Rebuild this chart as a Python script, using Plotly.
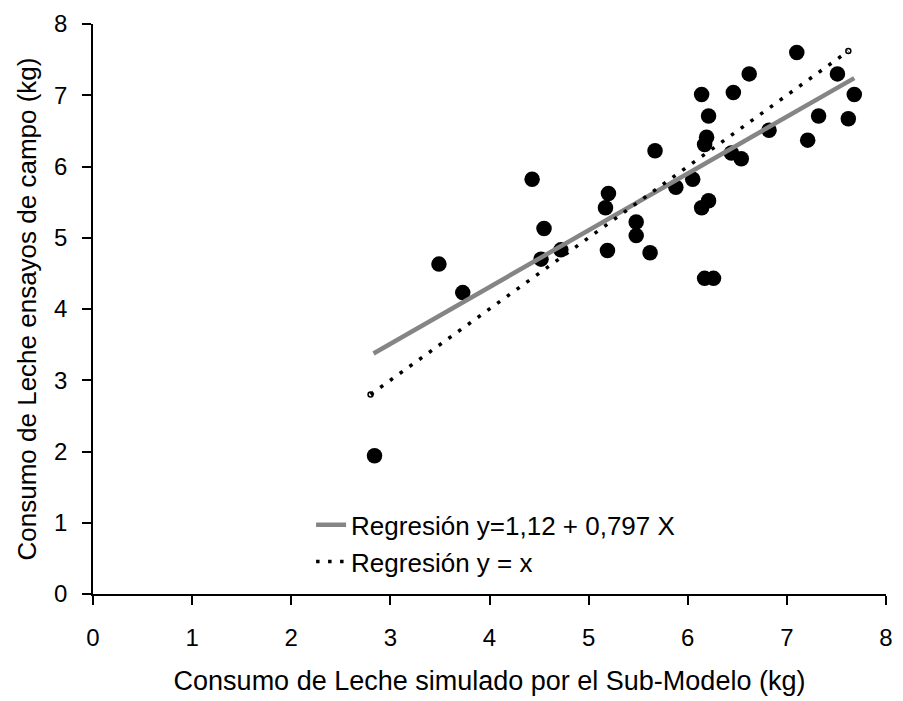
import plotly.graph_objects as go

# Simulated vs. field-trial milk consumption (kg)
simulado = [2.84, 3.49, 3.73, 4.43, 4.52, 4.55, 4.72, 5.17, 5.20, 5.19, 5.48, 5.48,
            5.62, 5.67, 5.88, 6.05, 6.14, 6.21, 6.14, 6.21, 6.19, 6.17, 6.17, 6.26,
            6.44, 6.46, 6.54, 6.62, 6.82, 7.10, 7.21, 7.32, 7.51, 7.62, 7.68]
campo = [1.94, 4.63, 4.23, 5.82, 4.70, 5.13, 4.83, 5.42, 5.62, 4.82, 5.22, 5.03,
         4.79, 6.22, 5.71, 5.82, 5.42, 5.52, 7.01, 6.71, 6.41, 6.31, 4.43, 4.43,
         6.19, 7.04, 6.11, 7.30, 6.51, 7.60, 6.37, 6.71, 7.30, 6.67, 7.01]

# Fitted regression y = a + b x and the identity line
intercepto = 1.12
pendiente = 0.797
reg_x = [2.83, 7.68]
ident_x = [2.80, 7.62]

ticks = [0, 1, 2, 3, 4, 5, 6, 7, 8]

font = "Liberation Sans, Arial, sans-serif"

fig = go.Figure()

fig.add_trace(go.Scatter(
    x=simulado, y=campo, mode="markers",
    marker=dict(color="black", size=15.5, line=dict(width=0)),
    showlegend=False, cliponaxis=False,
))

fig.add_trace(go.Scatter(
    x=reg_x, y=[intercepto + pendiente * v for v in reg_x], mode="lines",
    line=dict(color="#858585", width=4.5),
    name="Regresión y=1,12 + 0,797 X",
))

fig.add_trace(go.Scatter(
    x=ident_x, y=ident_x, mode="lines",
    line=dict(color="black", width=3.5, dash="3.5px,8.5px"),
    name="Regresión y = x",
))

# small open end markers on the identity line
fig.add_trace(go.Scatter(
    x=ident_x, y=ident_x, mode="markers",
    marker=dict(symbol="circle-open", color="black", size=5, line=dict(width=1.5)),
    showlegend=False, cliponaxis=False,
))

axis_common = dict(
    range=[0, 8], tickvals=ticks, ticktext=[str(t) for t in ticks],
    showgrid=False, zeroline=False, showline=True, linecolor="black",
    linewidth=1.5, ticks="outside", ticklen=9, tickwidth=1.5, tickcolor="black",
    tickfont=dict(family=font, size=24, color="black"),
    fixedrange=True,
)

fig.update_layout(
    width=903, height=701,
    margin=dict(l=93, r=10, t=22, b=105),
    paper_bgcolor="white", plot_bgcolor="white",
    font=dict(family=font, color="black"),
    xaxis=dict(**axis_common, ticklabelstandoff=12,
               title=dict(text="Consumo de Leche simulado por el Sub-Modelo (kg)",
                          font=dict(family=font, size=27), standoff=22)),
    yaxis=dict(**axis_common, ticklabelstandoff=10,
               title=dict(text="Consumo de Leche ensayos de campo (kg)",
                          font=dict(family=font, size=26), standoff=10)),
    legend=dict(x=0.275, y=0.1625, xanchor="left", yanchor="top",
                bgcolor="rgba(0,0,0,0)", borderwidth=0,
                font=dict(family=font, size=26, color="black"),
                tracegroupgap=0),
)

fig.write_html("out.html")
